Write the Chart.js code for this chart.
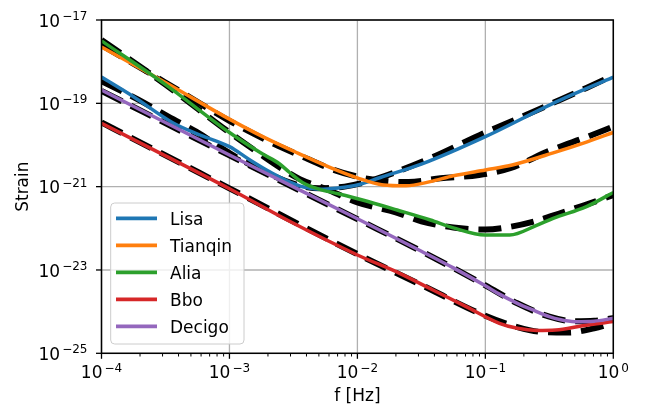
<!DOCTYPE html>
<html lang="en">
  <head>
    <meta charset="UTF-8" />
    <title>Detector strain sensitivity</title>
    <script src="https://cdn.jsdelivr.net/npm/chart.js"></script>
    <style>
      body {
        margin: 0;
        background: #fff;
      }
    </style>
  </head>
  <body>
    <canvas id="strainChart" width="645" height="405"></canvas>

    <script>
      // values are log10 of f [Hz] and of strain
      const lisaLogF = [-4, -3.75, -3.44, -3.23, -3.0, -2.84, -2.7, -2.55, -2.42, -2.3, -2.15, -2.0, -1.82, -1.5, -1.0, -0.47, 0];
      const lisaLogH = [-18.37, -18.84, -19.47, -19.76, -20.04, -20.36, -20.62, -20.86, -21.01, -21.06, -21.03, -20.96, -20.78, -20.46, -19.8, -19.0, -18.37];
      const lisaFitLogF = [-4, -3.72, -3.44, -3.26, -2.97, -2.7, -2.5, -2.3, -2.1, -1.9, -1.7, -1.41, -1.0, -0.755, -0.5, -0.21, 0];
      const lisaFitLogH = [-18.47, -18.9, -19.38, -19.68, -20.25, -20.68, -20.93, -21.04, -21.0, -20.86, -20.65, -20.29, -19.7, -19.38, -19.03, -18.63, -18.33];

      const tianqinLogF = [-4, -3.5, -3.0, -2.74, -2.47, -2.22, -2.0, -1.8, -1.62, -1.43, -1.25, -1.0, -0.79, -0.47, -0.21, 0];
      const tianqinLogH = [-17.65, -18.5, -19.38, -19.8, -20.19, -20.53, -20.79, -20.96, -20.98, -20.88, -20.74, -20.6, -20.48, -20.19, -19.93, -19.7];
      const tianqinFitLogF = [-4, -3.5, -3.0, -2.7, -2.45, -2.2, -2.0, -1.8, -1.6, -1.35, -1.05, -0.8, -0.5, -0.2, 0];
      const tianqinFitLogH = [-17.6, -18.5, -19.42, -19.9, -20.25, -20.58, -20.76, -20.86, -20.89, -20.8, -20.72, -20.55, -20.14, -19.8, -19.56];

      const aliaLogF = [-4, -3.5, -3.0, -2.75, -2.61, -2.53, -2.43, -2.3, -2.15, -1.96, -1.69, -1.43, -1.25, -1.0, -0.81, -0.6, -0.47, -0.21, 0];
      const aliaLogH = [-17.5, -18.55, -19.7, -20.2, -20.45, -20.66, -20.9, -21.06, -21.17, -21.32, -21.56, -21.8, -21.99, -22.16, -22.16, -21.93, -21.76, -21.48, -21.14];
      const aliaFitLogF = [-4, -3.5, -3.0, -2.75, -2.6, -2.45, -2.25, -2.0, -1.7, -1.5, -1.25, -1.0, -0.8, -0.6, -0.4, -0.2, 0];
      const aliaFitLogH = [-17.48, -18.55, -19.7, -20.24, -20.55, -20.82, -21.05, -21.38, -21.62, -21.83, -21.98, -22.03, -21.96, -21.82, -21.62, -21.42, -21.2];

      const bboLogF = [-4, -3.5, -3.0, -2.5, -2.0, -1.67, -1.41, -1.15, -0.89, -0.75, -0.6, -0.45, -0.24, 0];
      const bboLogH = [-19.48, -20.26, -21.05, -21.88, -22.64, -23.08, -23.48, -23.88, -24.28, -24.4, -24.45, -24.44, -24.34, -24.24];
      const bboFitLogF = [-4, -3.0, -2.0, -1.5, -1.0, -0.75, -0.55, -0.35, -0.15, 0];
      const bboFitLogH = [-19.46, -21.04, -22.62, -23.36, -24.1, -24.37, -24.49, -24.5, -24.4, -24.27];

      const decigoLogF = [-4, -3.0, -2.0, -1.5, -1.25, -1.0, -0.89, -0.75, -0.63, -0.5, -0.42, -0.3, -0.15, 0];
      const decigoLogH = [-18.68, -20.24, -21.77, -22.55, -22.95, -23.38, -23.58, -23.8, -23.96, -24.12, -24.19, -24.24, -24.23, -24.16];
      const decigoFitLogF = [-4, -3.0, -2.0, -1.5, -1.0, -0.75, -0.5, -0.3, -0.15, 0];
      const decigoFitLogH = [-18.7, -20.25, -21.78, -22.55, -23.37, -23.8, -24.12, -24.23, -24.22, -24.16];

      const seriesNames = ["Lisa", "Tianqin", "Alia", "Bbo", "Decigo"];
      const seriesColors = ["#1f77b4", "#ff7f0e", "#2ca02c", "#d62728", "#9467bd"];

      const xTickExps = [-4, -3, -2, -1, 0];
      const yTickExps = [-17, -19, -21, -23, -25];

      const FONT = '"DejaVu Sans", sans-serif';

      function toPoints(logF, logH) {
        return logF.map((f, i) => ({ x: 10 ** f, y: 10 ** logH[i] }));
      }

      const curves = [
        [lisaLogF, lisaLogH, lisaFitLogF, lisaFitLogH],
        [tianqinLogF, tianqinLogH, tianqinFitLogF, tianqinFitLogH],
        [aliaLogF, aliaLogH, aliaFitLogF, aliaFitLogH],
        [bboLogF, bboLogH, bboFitLogF, bboFitLogH],
        [decigoLogF, decigoLogH, decigoFitLogF, decigoFitLogH],
      ];

      const datasets = [];
      curves.forEach((c, i) => {
        datasets.push({
          label: seriesNames[i],
          data: toPoints(c[0], c[1]),
          borderColor: seriesColors[i],
          borderWidth: 3.5,
          order: 5 - i,
        });
        datasets.push({
          label: seriesNames[i] + " fit",
          data: toPoints(c[2], c[3]),
          borderColor: "#000",
          borderWidth: 6,
          borderDash: [23, 10],
          order: 20,
        });
      });

      // "10" with a raised exponent, like matplotlib's mathtext
      function powerLabel(ctx, exp, x, y, align) {
        const sup = exp < 0 ? "\u2212" + Math.abs(exp) : String(exp);
        ctx.font = "17px " + FONT;
        const wb = ctx.measureText("10").width;
        ctx.font = "12px " + FONT;
        const ws = ctx.measureText(sup).width;
        const w = wb + 2 + ws;
        const left = align === "right" ? x - w : x - w / 2;
        ctx.textAlign = "left";
        ctx.textBaseline = "alphabetic";
        ctx.fillStyle = "#000";
        ctx.font = "17px " + FONT;
        ctx.fillText("10", left, y);
        ctx.font = "12px " + FONT;
        ctx.fillText(sup, left + wb + 2, y - 6.7);
      }

      const axesDecor = {
        id: "axesDecor",
        beforeDatasetsDraw(chart) {
          const { ctx, chartArea: a, scales } = chart;
          ctx.save();
          ctx.strokeStyle = "#b0b0b0";
          ctx.lineWidth = 1.3;
          xTickExps.forEach((e) => {
            const px = scales.x.getPixelForValue(10 ** e);
            ctx.beginPath();
            ctx.moveTo(px, a.top);
            ctx.lineTo(px, a.bottom);
            ctx.stroke();
          });
          yTickExps.forEach((e) => {
            const py = scales.y.getPixelForValue(10 ** e);
            ctx.beginPath();
            ctx.moveTo(a.left, py);
            ctx.lineTo(a.right, py);
            ctx.stroke();
          });
          ctx.restore();
        },
        afterDatasetsDraw(chart) {
          const { ctx, chartArea: a, scales } = chart;
          ctx.save();
          ctx.strokeStyle = "#000";

          // frame
          ctx.lineWidth = 1.5;
          ctx.strokeRect(a.left, a.top, a.right - a.left, a.bottom - a.top);

          // major ticks + labels
          ctx.lineWidth = 1.3;
          xTickExps.forEach((e) => {
            const px = scales.x.getPixelForValue(10 ** e);
            ctx.beginPath();
            ctx.moveTo(px, a.bottom);
            ctx.lineTo(px, a.bottom + 5.5);
            ctx.stroke();
            powerLabel(ctx, e, px, a.bottom + 25, "center");
          });
          yTickExps.forEach((e) => {
            const py = scales.y.getPixelForValue(10 ** e);
            ctx.beginPath();
            ctx.moveTo(a.left, py);
            ctx.lineTo(a.left - 5.5, py);
            ctx.stroke();
            powerLabel(ctx, e, a.left - 14, py + 6.7, "right");
          });

          // minor ticks on the frequency axis
          ctx.lineWidth = 1;
          for (let e = -4; e < 0; e++) {
            for (let m = 2; m <= 9; m++) {
              const px = scales.x.getPixelForValue(m * 10 ** e);
              ctx.beginPath();
              ctx.moveTo(px, a.bottom);
              ctx.lineTo(px, a.bottom + 3.2);
              ctx.stroke();
            }
          }

          // axis titles
          ctx.fillStyle = "#000";
          ctx.font = "17px " + FONT;
          ctx.textAlign = "center";
          ctx.textBaseline = "alphabetic";
          ctx.fillText("f [Hz]", (a.left + a.right) / 2, 401);
          ctx.save();
          ctx.translate(28.3, (a.top + a.bottom) / 2);
          ctx.rotate(-Math.PI / 2);
          ctx.fillText("Strain", 0, 0);
          ctx.restore();

          // legend box inside the axes, lower left
          const lx = 110.7, ly = 203, lw = 133.3, lh = 141;
          ctx.beginPath();
          ctx.roundRect(lx, ly, lw, lh, 4);
          ctx.fillStyle = "rgba(255,255,255,0.8)";
          ctx.fill();
          ctx.strokeStyle = "#cccccc";
          ctx.lineWidth = 1;
          ctx.stroke();
          seriesNames.forEach((name, i) => {
            const ry = 218.3 + i * 27;
            ctx.strokeStyle = seriesColors[i];
            ctx.lineWidth = 3.8;
            ctx.beginPath();
            ctx.moveTo(116, ry);
            ctx.lineTo(157, ry);
            ctx.stroke();
            ctx.fillStyle = "#000";
            ctx.textAlign = "left";
            ctx.font = "17px " + FONT;
            ctx.fillText(name, 170, ry + 6.2);
          });

          ctx.restore();
        },
      };

      new Chart(document.getElementById("strainChart"), {
        type: "scatter",
        data: { datasets: datasets },
        options: {
          responsive: false,
          animation: false,
          devicePixelRatio: 1,
          showLine: true,
          layout: {
            padding: { left: 101.5, right: 31.7, top: 20, bottom: 51.7 },
          },
          elements: {
            point: { radius: 0, hoverRadius: 0 },
            line: { cubicInterpolationMode: "monotone", fill: false },
          },
          scales: {
            x: { type: "logarithmic", min: 1e-4, max: 1, display: false },
            y: { type: "logarithmic", min: 1e-25, max: 1e-17, display: false },
          },
          plugins: {
            legend: { display: false },
            tooltip: { enabled: false },
          },
        },
        plugins: [axesDecor],
      });
    </script>
  </body>
</html>
